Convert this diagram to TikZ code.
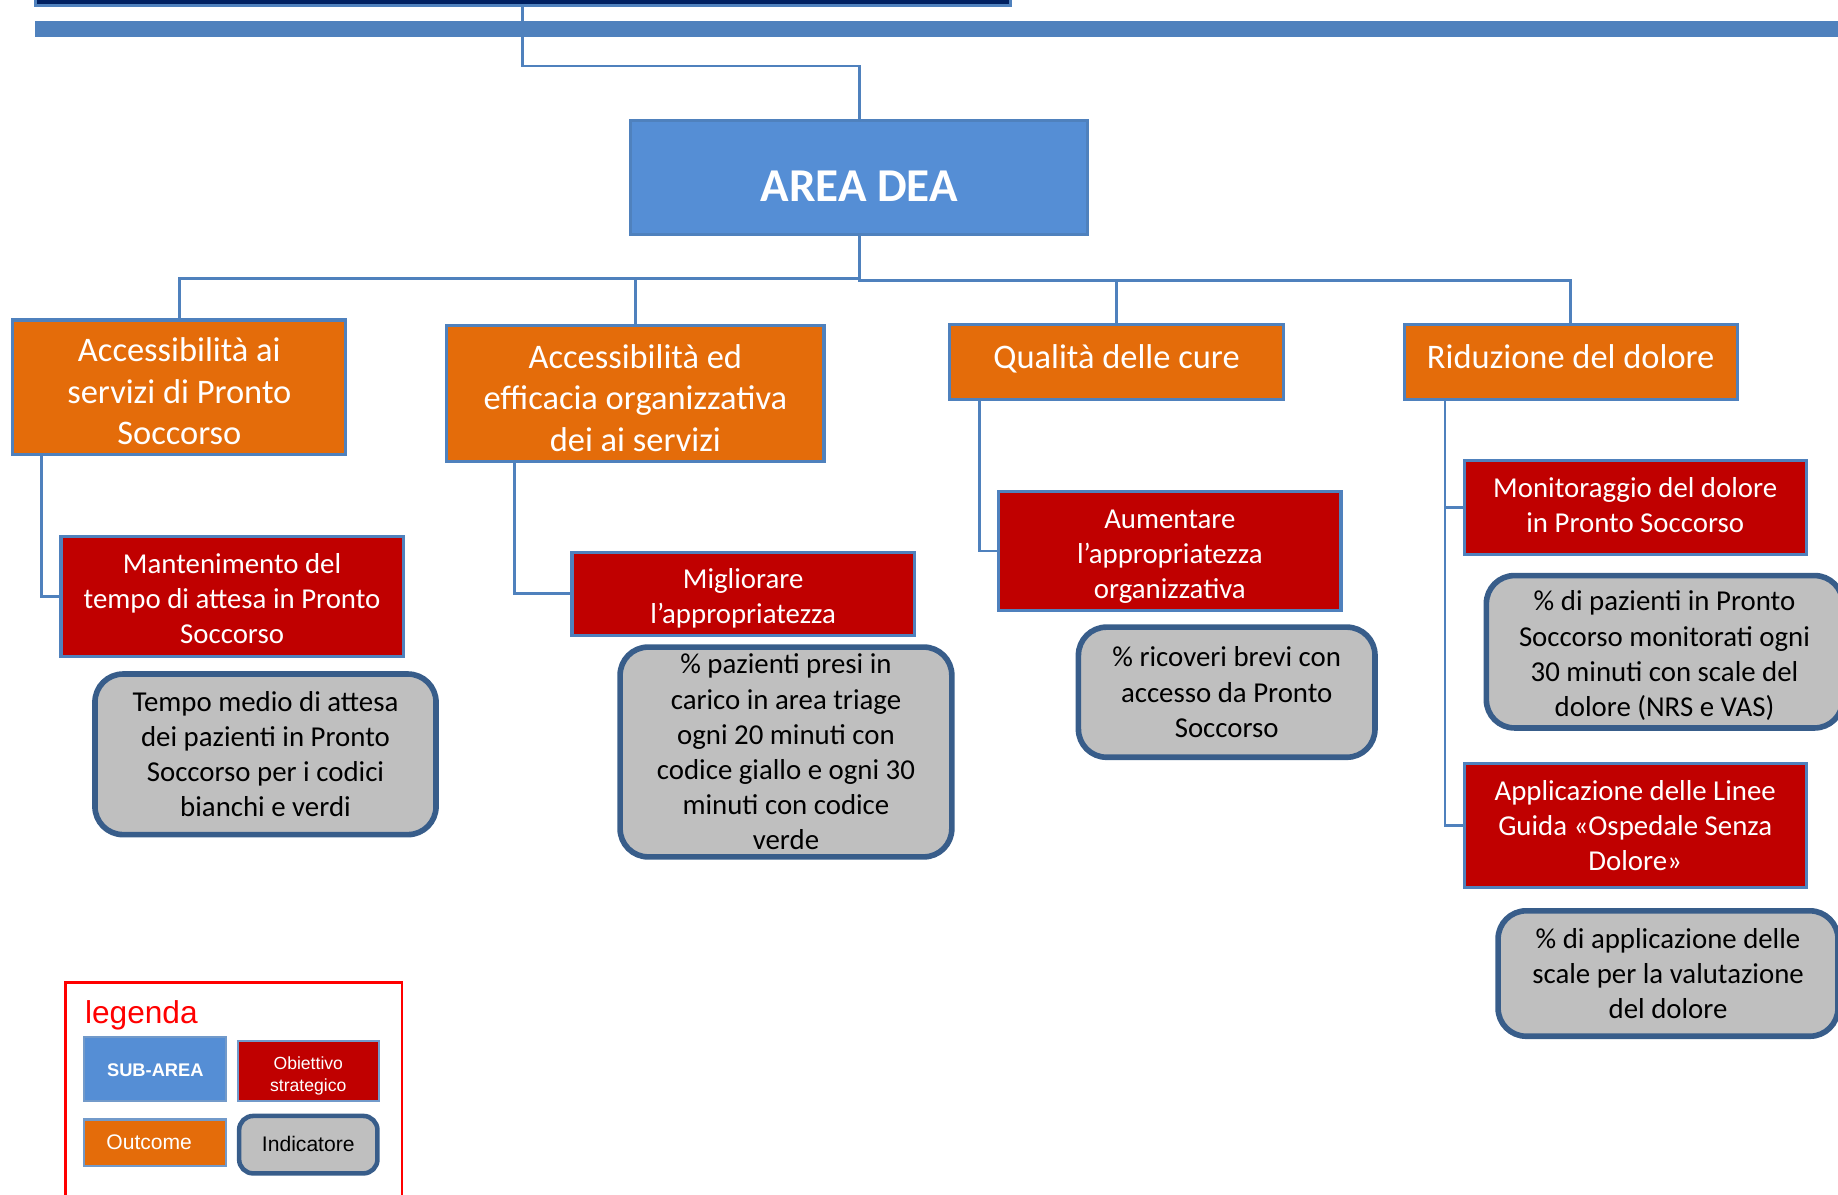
\documentclass[tikz,border=0pt]{standalone}
\usepackage{fontspec}
\setmainfont{Carlito}
\newfontfamily\arialfont{Liberation Sans}
\newlength\pu
\setlength\pu{0.011722cm}
\definecolor{deablue}{RGB}{85,142,213}
\definecolor{lineblue}{RGB}{79,129,189}
\definecolor{outorange}{RGB}{228,108,10}
\definecolor{objred}{RGB}{192,0,0}
\definecolor{indgray}{RGB}{191,191,191}
\definecolor{indborder}{RGB}{56,93,138}
\definecolor{navybar}{RGB}{0,32,96}
\begin{document}
\begin{tikzpicture}[x=0.011722cm, y=-0.011722cm,
  size/.style 2 args={minimum width=#1*\pu, minimum height=#2*\pu, inner sep=0pt},
  txt/.style 2 args={text height=#1, text depth=#2},
  link/.style={draw=lineblue, line width=0.8pt},
  area/.style={draw=lineblue, line width=0.9pt, fill=deablue, text=white, font=\fontsize{13.4}{16}\selectfont\bfseries},
  outcome/.style={draw=lineblue, line width=0.9pt, fill=outorange, text=white, align=center, font=\fontsize{9.8}{11.8}\selectfont},
  objective/.style={draw=lineblue, line width=0.9pt, fill=objred, text=white, align=center, font=\fontsize{8.2}{10}\selectfont},
  indicator/.style={draw=indborder, line width=1.6pt, fill=indgray, rounded corners=8pt, align=center, font=\fontsize{8.2}{10}\selectfont},
  legbox/.style={draw=lineblue!80, line width=0.6pt, text=white, align=center, font=\arialfont\fontsize{5}{6.1}\selectfont}]
  \useasboundingbox (0,0) rectangle (1568,1019);

  \node[draw=lineblue, line width=0.9pt, fill=navybar, size={832}{15}] (N) at (446,-2.5) {};
  \fill[lineblue] (30,18) rectangle (1600,31.5);

  \node[area, size={390}{97}, txt={13.6pt}{0pt}] (T) at (733,151.5) {AREA DEA};
  \draw[link] (N.south) -- ++(0,50) -| (T.north);

  \node[outcome, size={284}{115}, txt={32.6pt}{0pt}] (A) at (153,330.5) {Accessibilità ai\\ servizi di Pronto\\ Soccorso};
  \node[outcome, size={322}{116}, txt={32.7pt}{0pt}] (B) at (542,336) {Accessibilità ed\\ efficacia organizzativa\\ dei ai servizi};
  \node[outcome, size={285}{64}, txt={3.8pt}{0pt}] (C) at (952.5,309) {Qualità delle cure};
  \node[outcome, size={284}{64}, txt={3.8pt}{0pt}] (D) at (1340,309) {Riduzione del dolore};
  \draw[link] (T.south) -- ++(0,36) -| (A.north);
  \draw[link] (T.south) -- ++(0,36) -| (B.north);
  \draw[link] (T.south) -- ++(0,38) -| (C.north);
  \draw[link] (T.south) -- ++(0,38) -| (D.north);

  \node[objective, size={292}{102}, txt={26.8pt}{0pt}] (E) at (198,509) {Mantenimento del\\ tempo di attesa in Pronto\\ Soccorso};
  \draw[link] ([xshift=26*\pu]A.south west) |- (E.west);
  \node[indicator, size={291}{137}] (J) at (226.5,643.5) {Tempo medio di attesa\\ dei pazienti in Pronto\\ Soccorso per i codici\\ bianchi e verdi};

  \node[objective, size={292}{71}, txt={16.9pt}{0pt}] (F) at (634,506.5) {Migliorare\\ l’appropriatezza};
  \draw[link] ([xshift=59*\pu]B.south west) |- (F.west);
  \node[indicator, size={283}{179}] (K) at (670.5,641.5) {\% pazienti presi in\\ carico in area triage\\ ogni 20 minuti con\\ codice giallo e ogni 30\\ minuti con codice\\ verde};

  \node[objective, size={292}{102}, txt={27.2pt}{0pt}] (G) at (998,470) {Aumentare\\ l’appropriatezza\\ organizzativa};
  \draw[link] ([xshift=27*\pu]C.south west) |- (G.west);
  \node[indicator, size={253}{111}] (L) at (1046.5,590.5) {\% ricoveri brevi con\\ accesso da Pronto\\ Soccorso};

  \node[objective, size={292}{80}, txt={14.4pt}{0pt}] (H) at (1395,433) {Monitoraggio del dolore\\ in Pronto Soccorso};
  \draw[link] ([xshift=36*\pu]D.south west) |- (H.west);
  \node[indicator, size={304}{130}, txt={36.8pt}{0pt}] (M) at (1420,556) {\% di pazienti in Pronto\\ Soccorso monitorati ogni\\ 30 minuti con scale del\\ dolore (NRS e VAS)};

  \node[objective, size={292}{106}, txt={25.7pt}{0pt}] (I) at (1395,704) {Applicazione delle Linee\\ Guida «Ospedale Senza\\ Dolore»};
  \draw[link] ([xshift=36*\pu]D.south west) |- (I.west);
  \node[indicator, size={290}{107}] (O) at (1423,830.5) {\% di applicazione delle\\ scale per la valutazione\\ del dolore};

  \draw[red, line width=0.8pt] (56,838) rectangle (343,1030);
  \node[anchor=west, inner sep=0pt, text=red, font=\arialfont\fontsize{9}{11}\selectfont] (Leg) at (72,866) {legenda};
  \node[legbox, fill=deablue, size={121}{54}, txt={4.3pt}{0pt}, font=\arialfont\bfseries\fontsize{5.2}{6.2}\selectfont] (P) at (132.5,912) {SUB-AREA};
  \node[legbox, fill=objred, size={120}{51}, txt={11.6pt}{0pt}] (Q) at (263,913.5) {Obiettivo\\ strategico};
  \node[legbox, fill=outorange, size={121}{40}, txt={3.5pt}{0pt}, font=\arialfont\fontsize{6}{7}\selectfont] (R) at (132.5,975) {Outcome\hspace*{3.5pt}};
  \node[legbox, draw=indborder, line width=1.3pt, fill=indgray, rounded corners=4pt, text=black, size={118}{49}, txt={4pt}{0pt}, font=\arialfont\fontsize{6}{7}\selectfont] (S) at (263,976.5) {Indicatore};

\end{tikzpicture}
\end{document}
